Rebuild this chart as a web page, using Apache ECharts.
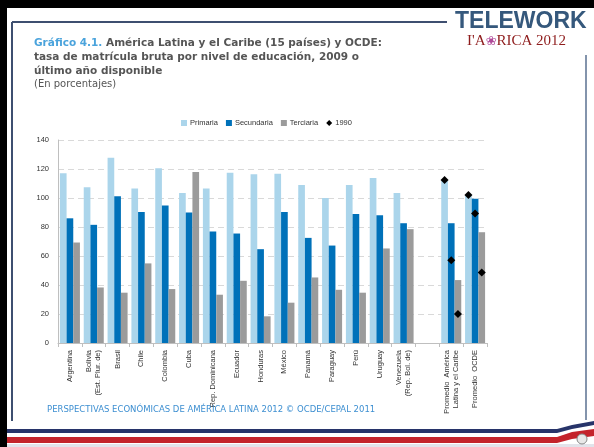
<!DOCTYPE html>
<html>
<head>
<meta charset="utf-8">
<script src="https://cdn.jsdelivr.net/npm/echarts@6/dist/echarts.min.js"></script>
<style>
  html, body { margin: 0; padding: 0; background: #fff; }
  #chart { width: 594px; height: 447px; }
</style>
</head>
<body>
<div id="chart"></div>
<script>
const categories = [
  'Argentina', 'Bolivia\n(Est. Plur. de)', 'Brasil', 'Chile', 'Colombia', 'Cuba',
  'Rep. Dominicana', 'Ecuador', 'Honduras', 'México', 'Panamá', 'Paraguay', 'Perú',
  'Uruguay', 'Venezuela\n(Rep. Bol. de)', '', 'Promedio  América\nLatina y el Caribe', 'Promedio  OCDE'
]
const primaria = [117, 107.4, 127.8, 106.5, 120.5, 103.5, 106.5, 117.5, 116.4, 116.8, 109, 100, 109, 113.8, 103.5, null, 112, 102]
const secundaria = [86, 81.5, 101.2, 90.4, 94.8, 90, 76.9, 75.5, 64.7, 90.4, 72.5, 67.2, 89, 88.1, 82.6, null, 82.6, 99.4]
const terciaria = [69.3, 38.3, 34.7, 54.9, 37.2, 118, 33.3, 42.9, 18.4, 27.8, 45.2, 36.7, 34.7, 65.2, 78.5, null, 43.4, 76.4]
const p1990 = [null, null, null, null, null, null, null, null, null, null, null, null, null, null, null, null, 112.5, 102]
const s1990 = [null, null, null, null, null, null, null, null, null, null, null, null, null, null, null, null, 57, 89.3]
const t1990 = [null, null, null, null, null, null, null, null, null, null, null, null, null, null, null, null, 20, 48.7]
const yTicks = [0, 20, 40, 60, 80, 100, 120, 140]

const chart = echarts.init(document.getElementById('chart'))

const barStyle = (name, data, color) => ({
  name: name,
  type: 'bar',
  data: data,
  barGap: '0%',
  barCategoryGap: '16%',
  itemStyle: { color: color },
  z: 2
})

const dotStyle = (data) => ({
  name: '1990',
  type: 'pictorialBar',
  data: data,
  symbol: 'diamond',
  symbolSize: [8, 8],
  symbolPosition: 'end',
  symbolOffset: [0, '-50%'],
  barGap: '0%',
  barCategoryGap: '16%',
  itemStyle: { color: '#000' },
  z: 5
})

const option = {
  animation: false,
  backgroundColor: '#fff',
  textStyle: { fontFamily: 'Liberation Sans' },
  title: {
    left: 29,
    top: 31,
    text: '{a|Gráfico 4.1.} América Latina y el Caribe (15 países) y OCDE:\ntasa de matrícula bruta por nivel de educación, 2009 o\núltimo año disponible',
    textStyle: {
      fontFamily: 'DejaVu Sans',
      fontWeight: 'bold',
      fontSize: 10.5,
      color: '#555',
      lineHeight: 14,
      rich: {
        a: { fontFamily: 'DejaVu Sans', fontWeight: 'bold', fontSize: 10.5, color: '#4aa3dc', lineHeight: 14 }
      }
    },
    subtext: '(En porcentajes)',
    itemGap: 0,
    subtextStyle: { fontFamily: 'DejaVu Sans', fontSize: 10, color: '#555', lineHeight: 13 }
  },
  legend: {
    left: 176,
    top: 114,
    itemWidth: 6,
    itemHeight: 6,
    itemGap: 8,
    textStyle: { fontSize: 7.5, color: '#333', padding: [0, 0, 0, -2] },
    data: [
      { name: 'Primaria', icon: 'rect' },
      { name: 'Secundaria', icon: 'rect' },
      { name: 'Terciaria', icon: 'rect' },
      { name: '1990', icon: 'diamond' }
    ]
  },
  grid: { left: 58, right: 107, top: 140, bottom: 104 },
  xAxis: {
    type: 'category',
    data: categories,
    axisLine: { lineStyle: { color: '#bfbfbf' } },
    axisTick: { show: true, length: 4, lineStyle: { color: '#bfbfbf' } },
    axisLabel: { interval: 0, rotate: 90, fontSize: 7.5, color: '#333', margin: 7, lineHeight: 9 }
  },
  yAxis: {
    type: 'value',
    min: yTicks[0],
    max: yTicks[yTicks.length - 1],
    interval: 20,
    axisLine: { show: true, lineStyle: { color: '#bfbfbf' } },
    axisTick: { show: false },
    axisLabel: { fontSize: 7.5, color: '#333', margin: 9 },
    splitLine: { lineStyle: { color: '#d9d9d9', type: [6, 4] } }
  },
  series: [
    barStyle('Primaria', primaria, '#abd5eb'),
    barStyle('Secundaria', secundaria, '#0071b9'),
    barStyle('Terciaria', terciaria, '#9b9b9b'),
    dotStyle(p1990),
    dotStyle(s1990),
    dotStyle(t1990)
  ],
  graphic: [
    { type: 'rect', shape: { x: 0, y: 0, width: 594, height: 8 }, style: { fill: '#000' }, z: 10 },
    { type: 'rect', shape: { x: 0, y: 0, width: 7, height: 447 }, style: { fill: '#000' }, z: 10 },
    { type: 'rect', shape: { x: 447, y: 8, width: 147, height: 47 }, style: { fill: '#fff' }, z: 11 },
    { type: 'line', shape: { x1: 12, y1: 22, x2: 447, y2: 22 }, style: { stroke: '#3e4f70', lineWidth: 2 }, z: 10 },
    { type: 'line', shape: { x1: 12, y1: 22, x2: 12, y2: 421 }, style: { stroke: '#3e4f70', lineWidth: 2 }, z: 10 },
    { type: 'line', shape: { x1: 586, y1: 55, x2: 586, y2: 420 }, style: { stroke: '#5a7090', lineWidth: 1.5 }, z: 10 },
    {
      type: 'text', left: 455, top: 10, z: 12,
      style: { text: 'TELEWORK', fill: '#35587c', font: 'bold 23px "Liberation Sans"' }
    },
    {
      type: 'text', left: 467, top: 34, z: 12,
      style: {
        text: "I'A{f|❀}RICA 2012",
        fill: '#8e1c1c',
        font: '15px "Liberation Serif"',
        rich: { f: { fill: '#b04a9a', font: '13px "DejaVu Sans"' } }
      }
    },
    {
      type: 'text', left: 47, top: 405, z: 12,
      style: { text: 'PERSPECTIVAS ECONÓMICAS DE AMÉRICA LATINA 2012 © OCDE/CEPAL 2011', fill: '#3d8fd1', font: '8.5px "DejaVu Sans"' }
    },
    { type: 'rect', shape: { x: 7, y: 429, width: 550, height: 4 }, style: { fill: '#27346a' }, z: 10 },
    { type: 'rect', shape: { x: 7, y: 437, width: 550, height: 6 }, style: { fill: '#c4232b' }, z: 10 },
    { type: 'polygon', shape: { points: [[557, 429], [572, 425], [594, 421], [594, 425], [572, 429], [557, 433]] }, style: { fill: '#27346a' }, z: 10 },
    { type: 'polygon', shape: { points: [[557, 437], [572, 432], [594, 429], [594, 436], [572, 439], [557, 443]] }, style: { fill: '#c4232b' }, z: 10 },
    { type: 'rect', shape: { x: 7, y: 444, width: 587, height: 3 }, style: { fill: '#e2e3ea' }, z: 10 },
    { type: 'circle', shape: { cx: 582, cy: 439, r: 5 }, style: { fill: '#e8e8e8', stroke: '#888', lineWidth: 1 }, z: 12 }
  ]
}

chart.setOption(option)
</script>
</body>
</html>
